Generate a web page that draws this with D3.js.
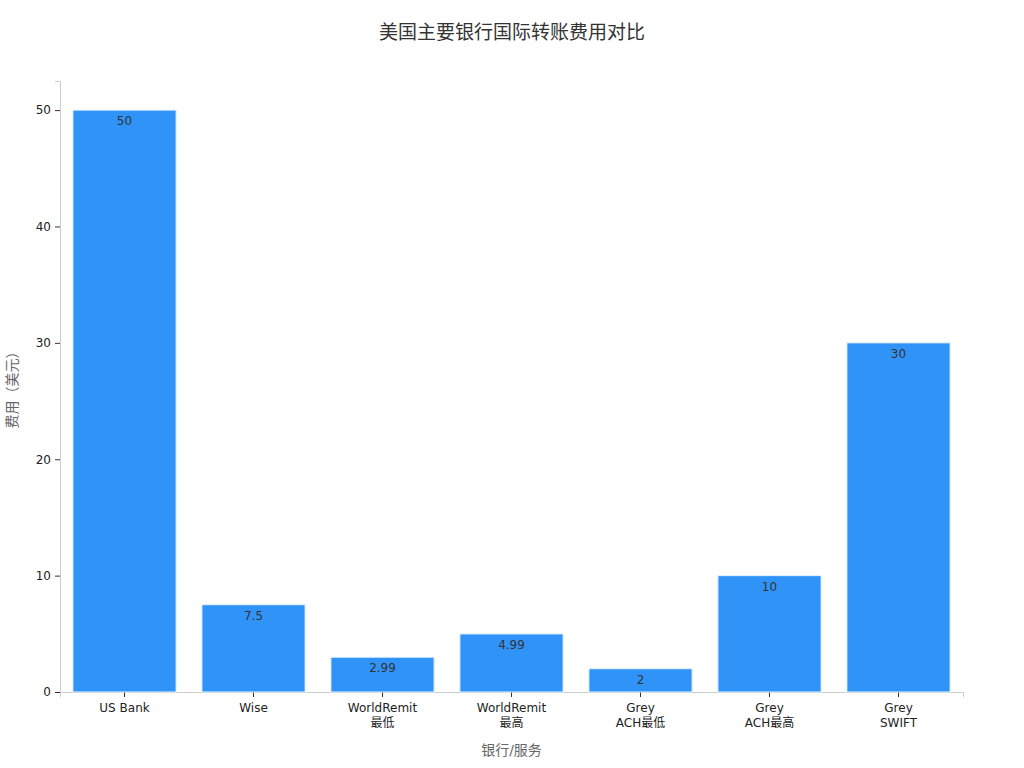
<!DOCTYPE html>
<html>
<head>
<meta charset="utf-8">
<script src="https://cdn.jsdelivr.net/npm/d3@7"></script>
<style>
  body { margin: 0; background: #fff; }
  text { font-family: "DejaVu Sans", "Noto Sans CJK SC", sans-serif; }
</style>
</head>
<body>
<div id="chart"></div>
<script>
const categories = ["US Bank", "Wise", "WorldRemit\n最低", "WorldRemit\n最高", "Grey\nACH最低", "Grey\nACH最高", "Grey\nSWIFT"];
const fees = [50, 7.5, 2.99, 4.99, 2, 10, 30];
const feeLabels = ["50", "7.5", "2.99", "4.99", "2", "10", "30"];
const yTicks = [0, 10, 20, 30, 40, 50];

const width = 1024;
const height = 768;
const margin = { top: 81, right: 61, bottom: 76, left: 60 };
const innerWidth = width - margin.left - margin.right;
const innerHeight = height - margin.top - margin.bottom;

const svg = d3.select("#chart")
    .append("svg")
    .attr("width", width)
    .attr("height", height);

const g = svg.append("g")
    .attr("transform", `translate(${margin.left},${margin.top})`);

// Title
svg.append("text")
    .attr("x", 512)
    .attr("y", 39)
    .attr("text-anchor", "middle")
    .style("font-size", "19px")
    .style("fill", "#333")
    .text("美国主要银行国际转账费用对比");

const xScale = d3.scaleBand()
    .domain(categories)
    .range([0, innerWidth])
    .paddingInner(0.2)
    .paddingOuter(0.1);

const yScale = d3.scaleLinear()
    .domain([0, 52.5])
    .range([innerHeight, 0]);

// Axes
const xAxis = g.append("g")
    .attr("transform", `translate(0,${innerHeight})`)
    .call(d3.axisBottom(xScale).tickSize(5).tickFormat(""));
xAxis.select(".domain").attr("stroke", "#ccc");
xAxis.selectAll(".tick line").attr("stroke", "#333");

xAxis.selectAll(".tick").each(function (d) {
    const lines = d.split("\n");
    const t = d3.select(this).append("text")
        .attr("fill", "#222")
        .attr("text-anchor", "middle")
        .style("font-size", "12px");
    lines.forEach((ln, i) => {
        t.append("tspan")
            .attr("x", 0)
            .attr("y", 20 + i * 15)
            .text(ln);
    });
});

const yAxis = g.append("g")
    .call(d3.axisLeft(yScale).tickValues(yTicks).tickSize(5).tickPadding(4));
yAxis.select(".domain").attr("stroke", "#ccc");
yAxis.selectAll(".tick line").attr("stroke", "#333");
yAxis.selectAll(".tick text").attr("fill", "#222").style("font-size", "12px");

// Axis labels
g.append("text")
    .attr("x", innerWidth / 2)
    .attr("y", innerHeight + 63)
    .attr("text-anchor", "middle")
    .style("font-size", "14px")
    .style("fill", "#666")
    .text("银行/服务");

g.append("text")
    .attr("transform", "rotate(-90)")
    .attr("x", -innerHeight / 2)
    .attr("y", -43)
    .attr("text-anchor", "middle")
    .style("font-size", "14px")
    .style("fill", "#666")
    .text("费用（美元）");

// Bars
g.selectAll("rect.bar")
    .data(fees)
    .enter()
    .append("rect")
    .attr("class", "bar")
    .attr("x", (d, i) => xScale(categories[i]))
    .attr("y", d => yScale(d))
    .attr("width", xScale.bandwidth())
    .attr("height", d => innerHeight - yScale(d))
    .attr("fill", "#2f93f7")
    .attr("stroke", "#e8f2fe")
    .attr("stroke-width", 1);

// Value labels
g.selectAll("text.val")
    .data(fees)
    .enter()
    .append("text")
    .attr("class", "val")
    .attr("x", (d, i) => xScale(categories[i]) + xScale.bandwidth() / 2)
    .attr("y", d => yScale(d) + 15)
    .attr("text-anchor", "middle")
    .style("font-size", "12px")
    .style("fill", "#333")
    .text((d, i) => feeLabels[i]);
</script>
</body>
</html>
